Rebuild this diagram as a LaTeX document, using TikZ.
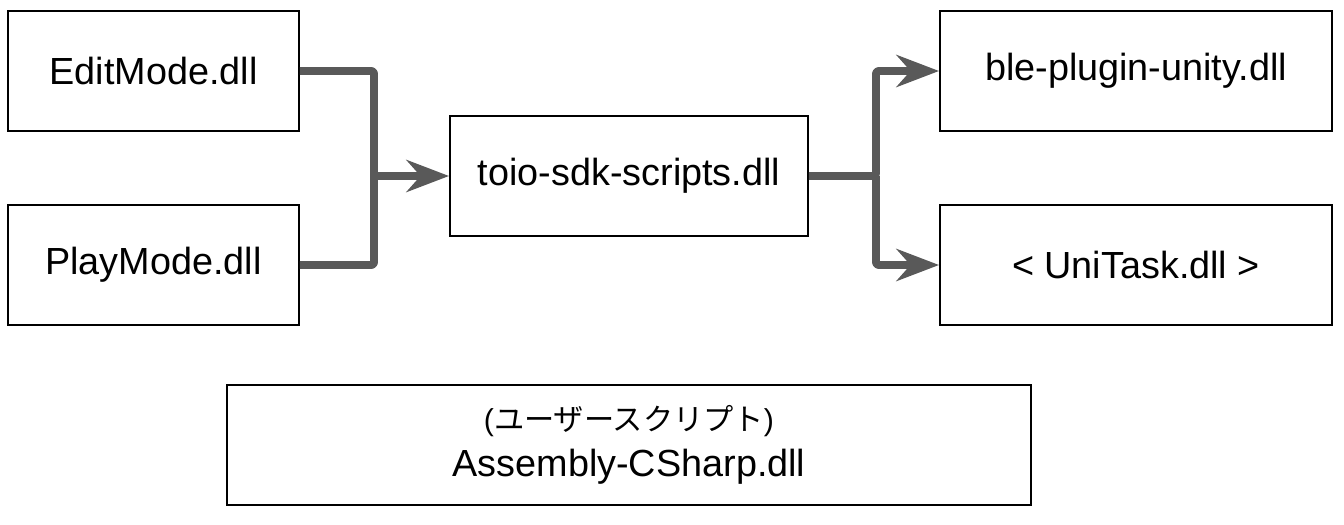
\documentclass[tikz,border=0pt]{standalone}
\usepackage{fontspec}
\setmainfont{Liberation Sans}
\newfontfamily\jpfont{Noto Sans CJK JP}
\usetikzlibrary{arrows.meta}
\usetikzlibrary{positioning}
\definecolor{linkgray}{HTML}{595959}
\tikzset{
  dll/.style={rectangle, draw, line width=1.1pt, minimum height=2.4cm, font=\fontsize{21.5}{26}\selectfont},
  link/.style={draw=linkgray, line width=4.5pt, line join=round, rounded corners=1.5pt},
  arrow/.style={link, -{Stealth[length=8.5mm, width=6.4mm, inset=2.8mm]}}
  }

\begin{document}
\begin{tikzpicture}
	\useasboundingbox (0,0) rectangle (26.88,-10.48);

	% Nodes
	\node[dll, minimum width=5.82cm] (edit) at (3.07,-1.42) {EditMode.dll};
	\node[dll, minimum width=5.82cm] (play) at (3.07,-5.30) {PlayMode.dll};
	\node[dll, minimum width=7.16cm] (toio) at (12.58,-3.52) {toio-sdk-scripts.dll};
	\node[dll, minimum width=7.84cm] (ble) at (22.72,-1.42) {ble-plugin-unity.dll};
	\node[dll, minimum width=7.84cm] (unitask) at (22.72,-5.30) {< UniTask.dll >};
	\node[dll, minimum width=16.08cm, align=center] (csharp) at (12.58,-8.90)
		{{\fontsize{17.2}{26}\selectfont({\jpfont ユーザースクリプト})}\\Assembly-CSharp.dll};

	% Junctions
	\coordinate (joinL) at (7.48,-3.52);
	\coordinate (joinR) at (17.52,-3.52);

	% Arrows
	\draw [link] (edit.east) -| (joinL);
	\draw [link] (play.east) -| (joinL);
	\draw [arrow] (joinL) -- (toio.west);
	\draw [arrow] (toio.east) -- (joinR) |- (ble.west);
	\draw [arrow] (joinR) |- (unitask.west);

\end{tikzpicture}
\end{document}
